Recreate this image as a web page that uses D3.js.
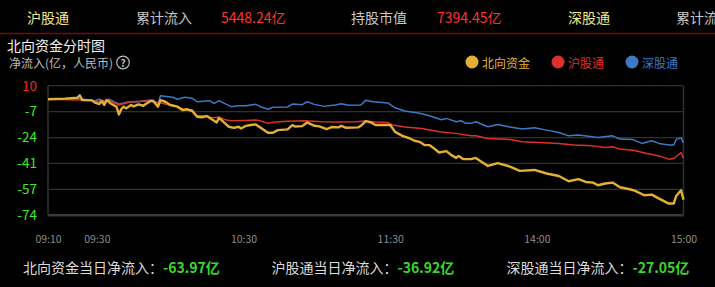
<!DOCTYPE html>
<html>
<head>
<meta charset="utf-8">
<script src="https://cdn.jsdelivr.net/npm/d3@7/dist/d3.min.js"></script>
<style>
  body { margin: 0; background: #000; }
  svg text { font-family: "Noto Sans CJK SC", "Noto Sans", sans-serif; }
</style>
</head>
<body>
<svg id="chart" width="715" height="287"></svg>
<script>
// top bar items
const topItems = ["沪股通", "累计流入", "5448.24亿", "持股市值", "7394.45亿", "深股通", "累计流入"];

// legend / series names
const seriesNames = ["北向资金", "沪股通", "深股通"];

// y axis ticks (values evenly spaced from 10 to -74) and their labels
const yTickValues = [10, -6.8, -23.6, -40.4, -57.2, -74];
const yTickLabels = ["10", "-7", "-24", "-41", "-57", "-74"];

// x axis tick labels (trading time)
const xTickLabels = ["09:10", "09:30", "10:30", "11:30", "14:00", "15:00"];

// day totals
const summaryLabels = ["北向资金当日净流入：", "沪股通当日净流入：", "深股通当日净流入："];
const summaryValues = ["-63.97亿", "-36.92亿", "-27.05亿"];

// 北向资金 net inflow (亿), [time, value]
const northFlow = [
  ["09:10", 1.2], ["09:17", 1.6], ["09:22", 2.2], ["09:23", 3.8], ["09:24", 0.7], ["09:28", 0.5],
  ["09:29", -0.8], ["09:31", -1.9], ["09:32", 0.1], ["09:33", -2.5], ["09:34", 0.7], ["09:36", -1.9],
  ["09:38", -3.6], ["09:39", -8.6], ["09:40", -5.1], ["09:41", -3.6], ["09:42", -4.7], ["09:44", -2.5],
  ["09:45", -3.4], ["09:47", -2.1], ["09:49", -3.0], ["09:50", -1.9], ["09:52", 0.1], ["09:53", 0.3],
  ["09:55", -3.6], ["09:56", 0.7], ["09:58", -0.4], ["10:00", -2.5], ["10:03", -3.6], ["10:05", -5.8],
  ["10:07", -5.3], ["10:09", -6.4], ["10:11", -10.1], ["10:13", -10.5], ["10:15", -9.7], ["10:17", -11.8],
  ["10:19", -13.8], ["10:20", -10.8], ["10:22", -13.8], ["10:24", -16.6], ["10:26", -17.3], ["10:28", -16.6],
  ["10:29", -17.7], ["10:31", -16.0], ["10:33", -15.5], ["10:35", -15.1], ["10:37", -17.3], ["10:40", -20.5],
  ["10:42", -20.5], ["10:44", -18.8], ["10:48", -18.3], ["10:50", -15.5], ["10:51", -16.4], ["10:54", -16.2],
  ["10:56", -13.8], ["10:59", -16.0], ["11:01", -16.4], ["11:04", -18.1], ["11:06", -16.8], ["11:09", -17.0],
  ["11:10", -16.0], ["11:12", -17.3], ["11:17", -17.0], ["11:18", -16.0], ["11:20", -12.9], ["11:22", -13.8],
  ["11:24", -15.5], ["11:30", -15.5], ["13:02", -19.9], ["13:05", -22.5], ["13:08", -24.2], ["13:10", -25.7],
  ["13:12", -26.4], ["13:14", -28.5], ["13:16", -28.5], ["13:18", -30.7], ["13:20", -33.3], ["13:23", -32.4],
  ["13:25", -35.0], ["13:27", -36.8], ["13:28", -35.5], ["13:30", -37.6], ["13:33", -37.6], ["13:35", -36.8],
  ["13:40", -42.0], ["13:44", -40.2], ["13:49", -42.4], ["13:53", -45.2], ["13:59", -44.6], ["14:04", -46.9],
  ["14:09", -48.5], ["14:13", -51.9], ["14:17", -50.6], ["14:20", -52.4], ["14:23", -52.8], ["14:25", -54.5],
  ["14:28", -53.4], ["14:31", -52.8], ["14:34", -55.8], ["14:38", -57.1], ["14:40", -58.0], ["14:44", -61.0],
  ["14:47", -60.6], ["14:50", -63.2], ["14:54", -66.4], ["14:56", -66.4], ["14:57", -61.5], ["14:59", -57.8],
  ["15:00", -63.97]
];

// 沪股通 net inflow (亿)
const shFlow = [
  ["09:10", 1.2], ["09:24", 0.7], ["09:28", 0.7], ["09:29", -0.4], ["09:35", 0.3], ["09:39", -2.5],
  ["09:44", -0.4], ["09:50", 0.1], ["09:55", -0.8], ["09:58", -1.9], ["10:02", -3.0], ["10:05", -5.1],
  ["10:09", -5.8], ["10:11", -9.5], ["10:14", -9.5], ["10:17", -10.8], ["10:20", -10.5], ["10:23", -12.3],
  ["10:25", -12.7], ["10:31", -12.5], ["10:35", -12.3], ["10:37", -12.9], ["10:40", -14.4], ["10:43", -13.6],
  ["10:48", -13.1], ["10:55", -12.7], ["11:02", -13.4], ["11:09", -13.6], ["11:16", -13.4], ["11:20", -12.9],
  ["11:24", -13.6], ["11:29", -13.8], ["13:01", -15.5], ["13:06", -16.8], ["13:13", -17.7], ["13:20", -19.9],
  ["13:27", -20.9], ["13:33", -22.5], ["13:35", -22.5], ["13:40", -24.2], ["13:49", -24.8], ["13:54", -26.4],
  ["14:01", -26.8], ["14:09", -27.4], ["14:15", -28.5], ["14:23", -29.0], ["14:28", -30.0], ["14:31", -29.6],
  ["14:34", -31.1], ["14:40", -32.0], ["14:45", -33.9], ["14:50", -35.5], ["14:54", -37.6], ["14:56", -37.2],
  ["14:58", -34.6], ["14:59", -33.3], ["15:00", -36.92]
];

// 深股通 net inflow (亿)
const szFlow = [
  ["09:10", 1.2], ["09:22", 1.8], ["09:24", 1.4], ["09:29", 0.1], ["09:31", 1.2], ["09:33", -0.4],
  ["09:35", 1.2], ["09:39", -1.9], ["09:42", -0.8], ["09:47", -0.4], ["09:52", 0.7], ["09:55", -2.5],
  ["09:56", 3.5], ["10:01", 2.5], ["10:03", 1.2], ["10:06", 2.5], ["10:09", 1.8], ["10:11", -0.4],
  ["10:16", 0.3], ["10:18", -1.4], ["10:20", 0.3], ["10:23", -2.1], ["10:25", -3.6], ["10:28", -3.0],
  ["10:31", -3.0], ["10:33", -2.5], ["10:35", -2.1], ["10:37", -3.6], ["10:40", -5.3], ["10:42", -4.0],
  ["10:48", -3.8], ["10:50", -1.9], ["10:54", -2.3], ["10:56", -0.4], ["10:59", -2.1], ["11:03", -3.4],
  ["11:08", -2.3], ["11:10", -1.7], ["11:13", -2.7], ["11:18", -2.5], ["11:20", 0.5], ["11:23", -0.4],
  ["11:29", -1.2], ["13:02", -4.3], ["13:06", -6.4], ["13:12", -7.9], ["13:16", -9.5], ["13:21", -12.1],
  ["13:23", -11.2], ["13:27", -13.4], ["13:29", -12.7], ["13:31", -14.4], ["13:33", -14.4], ["13:35", -13.4],
  ["13:40", -16.6], ["13:44", -15.1], ["13:49", -16.8], ["13:54", -18.1], ["13:59", -17.3], ["14:04", -18.8],
  ["14:09", -20.3], ["14:13", -22.5], ["14:17", -22.0], ["14:25", -23.5], ["14:31", -22.5], ["14:34", -24.6],
  ["14:39", -24.8], ["14:43", -27.4], ["14:47", -25.7], ["14:50", -27.4], ["14:54", -28.5], ["14:56", -28.5],
  ["14:57", -24.8], ["14:59", -23.8], ["15:00", -27.05]
];

const colors = { north: "#e2b034", sh: "#dd3029", sz: "#3f78c4" };
const margin = { left: 48, right: 31.5, top: 85.7, bottom: 71.7 };
const width = 715, height = 287;

// minutes since 09:10, lunch break (11:30-13:00) removed
function timeIndex(t) {
  const [h, m] = t.split(":").map(Number);
  const mins = h * 60 + m;
  return mins <= 690 ? mins - 550 : mins - 780 + 140;
}

const svg = d3.select("#chart");

// ---- top bar ----
const topX = [27, 136, 221, 351, 437, 568, 676];
const topColor = ["#f3e98a", "#c8c8c8", "#ff3333", "#c8c8c8", "#ff3333", "#f3e98a", "#c8c8c8"];
svg.selectAll("text.top").data(topItems).enter().append("text")
  .attr("class", "top")
  .attr("x", (d, i) => topX[i])
  .attr("y", 23)
  .attr("font-size", 14)
  .attr("fill", (d, i) => topColor[i])
  .text(d => d);
svg.append("line")
  .attr("x1", 0).attr("x2", width).attr("y1", 33.5).attr("y2", 33.5)
  .attr("stroke", "#7a0a0a").attr("stroke-width", 1.5);

// ---- titles ----
svg.append("text").attr("x", 7).attr("y", 51).attr("font-size", 14).attr("fill", "#f0f0f0")
  .text("北向资金分时图");
svg.append("text").attr("x", 9).attr("y", 67.5).attr("font-size", 12).attr("fill", "#bdbdbd")
  .text("净流入(亿，人民币)");
svg.append("circle").attr("cx", 123).attr("cy", 62.5).attr("r", 6.3)
  .attr("fill", "none").attr("stroke", "#bdbdbd").attr("stroke-width", 1.2);
svg.append("text").attr("x", 123).attr("y", 66.5).attr("font-size", 10).attr("font-weight", "bold")
  .attr("text-anchor", "middle").attr("fill", "#bdbdbd").text("?");

// ---- legend ----
const legendX = [472, 558, 632];
const legendColors = [colors.north, colors.sh, colors.sz];
const legend = svg.selectAll("g.legend").data(seriesNames).enter().append("g")
  .attr("class", "legend")
  .attr("transform", (d, i) => `translate(${legendX[i]},62)`);
legend.append("circle").attr("r", 6.5).attr("fill", (d, i) => legendColors[i]);
legend.append("text").attr("x", 10).attr("y", 6).attr("font-size", 12)
  .attr("fill", (d, i) => legendColors[i]).text(d => d);

// ---- scales ----
const x = d3.scaleLinear().domain([0, 260]).range([margin.left, width - margin.right]);
const y = d3.scaleLinear().domain([-74, 10]).range([height - margin.bottom, margin.top]);

// grid
svg.append("g")
  .selectAll("line").data(yTickValues).enter().append("line")
  .attr("x1", margin.left).attr("x2", width - margin.right)
  .attr("y1", d => y(d)).attr("y2", d => y(d))
  .attr("stroke", (d, i) => i === yTickValues.length - 1 ? "#3a3a3a" : "#303030")
  .attr("stroke-width", (d, i) => i === yTickValues.length - 1 ? 2.5 : 1.2);
svg.append("line")
  .attr("x1", margin.left).attr("x2", margin.left).attr("y1", y(10)).attr("y2", y(-74))
  .attr("stroke", "#303030").attr("stroke-width", 1.5);
svg.append("line")
  .attr("x1", width - margin.right).attr("x2", width - margin.right).attr("y1", y(10)).attr("y2", y(-74))
  .attr("stroke", "#303030").attr("stroke-width", 1.5);

// y axis labels
const yAxis = svg.append("g")
  .attr("transform", `translate(${margin.left - 11},0)`)
  .call(d3.axisLeft(y).tickValues(yTickValues).tickFormat((d, i) => yTickLabels[i]).tickSize(0).tickPadding(0));
yAxis.select(".domain").remove();
yAxis.selectAll("text")
  .attr("font-family", "'Liberation Sans', Arial, sans-serif")
  .attr("font-size", 13.5)
  .attr("fill", (d, i) => i === 0 ? "#e82a2a" : "#3cea2c");

// x axis labels
const xAxis = svg.append("g")
  .attr("transform", `translate(0,${236})`)
  .call(d3.axisBottom(x).tickValues(xTickLabels.map(timeIndex)).tickFormat((d, i) => xTickLabels[i]).tickSize(0).tickPadding(0));
xAxis.select(".domain").remove();
xAxis.selectAll("text")
  .attr("font-family", "'DejaVu Sans Mono', monospace")
  .attr("font-size", 10.5)
  .attr("fill", "#8c8c8c");

// ---- lines ----
const line = d3.line()
  .x(d => x(timeIndex(d[0])))
  .y(d => y(d[1]));

svg.append("path").datum(szFlow)
  .attr("d", line).attr("fill", "none")
  .attr("stroke", colors.sz).attr("stroke-width", 1.5).attr("stroke-linejoin", "round");
svg.append("path").datum(shFlow)
  .attr("d", line).attr("fill", "none")
  .attr("stroke", colors.sh).attr("stroke-width", 1.5).attr("stroke-linejoin", "round");
svg.append("path").datum(northFlow)
  .attr("d", line).attr("fill", "none")
  .attr("stroke", colors.north).attr("stroke-width", 2.4).attr("stroke-linejoin", "round");

// ---- day totals ----
const summaryX = [23, 271.5, 506.5];
const summary = svg.selectAll("text.summary").data(summaryLabels).enter().append("text")
  .attr("class", "summary")
  .attr("x", (d, i) => summaryX[i])
  .attr("y", 273)
  .attr("font-size", 14);
summary.append("tspan").attr("fill", "#dcdcdc").text(d => d);
summary.append("tspan").attr("fill", "#3ad828").attr("font-weight", "bold")
  .text((d, i) => summaryValues[i]);
</script>
</body>
</html>
